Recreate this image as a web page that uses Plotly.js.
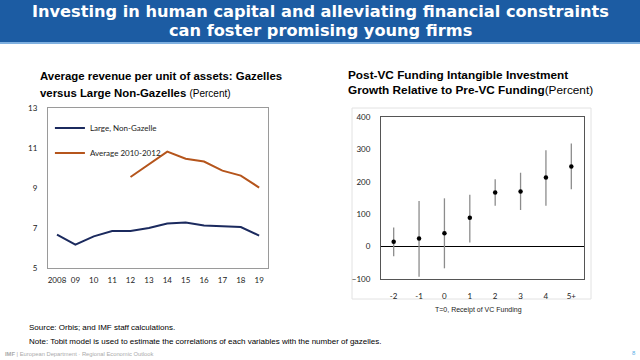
<!DOCTYPE html>
<html><head><meta charset="utf-8">
<script src="https://cdn.plot.ly/plotly-3.0.1.min.js"></script>
<style>html,body{margin:0;padding:0;background:#fff}#c{width:640px;height:360px}</style>
</head><body><div id="c"></div>
<script>
// Left chart data
const years = [2008,2009,2010,2011,2012,2013,2014,2015,2016,2017,2018,2019];
const yearLabels = ["2008","09","10","11","12","13","14","15","16","17","18","19"];
const largeNonGazelle = [6.67,6.17,6.58,6.85,6.85,7.0,7.22,7.28,7.12,7.1,7.05,6.62];
const average2010_2012 = [null,null,null,null,9.55,10.2,10.82,10.46,10.32,9.87,9.62,9.02];
// Right chart data
const periods = ["-2","-1","0","1","2","3","4","5+"];
const estimate = [15,25,41,89,167,170,213,247];
const upper = [59,141,149,160,208,228,297,318];
const lower = [-30,-93,-67,13,126,113,126,177];

const errPlus = estimate.map((v,i)=>upper[i]-v);
const errMinus = estimate.map((v,i)=>v-lower[i]);

const tickFont = {family:"Lato, 'Open Sans', sans-serif", size:8, color:"#222"};
const AR = "'Liberation Sans', Arial, sans-serif";
const TF = "'DejaVu Sans', sans-serif";

const traces = [
  {x:years, y:largeNonGazelle, type:"scatter", mode:"lines", name:"Large, Non-Gazelle",
   line:{color:"#1b2a5e", width:2}, xaxis:"x", yaxis:"y", legendgroup:"a"},
  {x:years, y:average2010_2012, type:"scatter", mode:"lines", name:"Average 2010-2012",
   line:{color:"#b5551c", width:2}, xaxis:"x", yaxis:"y", legendgroup:"b"},
  {x:periods, y:estimate, type:"scatter", mode:"markers", showlegend:false,
   marker:{color:"#000", size:4.5},
   error_y:{type:"data", symmetric:false, array:errPlus, arrayminus:errMinus, color:"#8c8c8c", thickness:1.3, width:0},
   xaxis:"x2", yaxis:"y2"}
];

function ann(x,y,text,size,opts){
  return Object.assign({xref:"paper", yref:"paper", x:x/640, y:1-y/360, xanchor:"left", yanchor:"middle",
    showarrow:false, text:text, font:{family:AR, size:size, color:"#000"}}, opts||{});
}

const layout = {
  width:640, height:360, margin:{l:0,r:0,t:0,b:0},
  paper_bgcolor:"#fff", plot_bgcolor:"#fff",
  showlegend:true,
  legend:{x:0.078, y:0.685, xanchor:"left", yanchor:"top", bgcolor:"rgba(0,0,0,0)",
    font:{family:"Lato, 'Open Sans', sans-serif", size:8, color:"#222"},
    tracegroupgap:6, itemwidth:30},
  xaxis:{domain:[0.075,0.419], anchor:"y", range:[2007.51,2019.49],
    tickmode:"array", tickvals:years, ticktext:yearLabels, ticks:"", showgrid:false, zeroline:false,
    showline:true, mirror:true, linecolor:"#9a9a9a", linewidth:1, tickfont:tickFont, ticklabelstandoff:4},
  yaxis:{domain:[0.2556,0.7], anchor:"x", range:[5,13], tick0:5, dtick:2, ticks:"", showgrid:false, zeroline:false,
    showline:true, mirror:true, linecolor:"#9a9a9a", linewidth:1, tickfont:tickFont, ticklabelstandoff:8},
  xaxis2:{domain:[0.5953,0.9125], anchor:"y2", type:"category", range:[-0.5,7.5], ticks:"", showgrid:false,
    zeroline:false, showline:true, mirror:true, linecolor:"#555", linewidth:1, tickfont:tickFont, ticklabelstandoff:9},
  yaxis2:{domain:[0.225,0.675], anchor:"x2", range:[-100,400], dtick:100, ticks:"", showgrid:false,
    zeroline:true, zerolinecolor:"#000", zerolinewidth:1,
    showline:true, mirror:true, linecolor:"#555", linewidth:1, tickfont:tickFont, ticklabelstandoff:8},
  shapes:[
    {type:"rect", xref:"paper", yref:"paper", x0:0, x1:1, y0:1-42/360, y1:1, fillcolor:"#1c5ca3", line:{width:0}, layer:"below"},
    {type:"rect", xref:"paper", yref:"paper", x0:0, x1:1, y0:1-44/360, y1:1-42/360, fillcolor:"#7fb0e0", line:{width:0}, layer:"below"},
    {type:"rect", xref:"paper", yref:"paper", x0:352/640, x1:591/640, y0:1-299/360, y1:1-108/360, fillcolor:"rgba(0,0,0,0)", line:{color:"#e2e2e2", width:1}, layer:"below"}
  ],
  annotations:[
    ann(320,11,"<b>Investing in human capital and alleviating financial constraints</b>",16.2,{xanchor:"center", font:{family:TF,size:16.2,color:"#fff"}}),
    ann(320,30,"<b>can foster promising young firms</b>",16.2,{xanchor:"center", font:{family:TF,size:16.2,color:"#fff"}}),
    ann(38,76,"<b>Average revenue per unit of assets: Gazelles</b>",11.4),
    ann(38,93,"<b>versus Large Non-Gazelles</b> <span style='font-size:10px'>(Percent)</span>",11.4),
    ann(346,75,"<b>Post-VC Funding Intangible Investment</b>",11.8),
    ann(346,90,"<b>Growth Relative to Pre-VC Funding</b><span style='font-size:11.8px'>(Percent)</span>",11.8),
    ann(478,310,"T=0, Receipt of VC Funding",7,{xanchor:"center", font:{family:AR,size:7,color:"#222"}}),
    ann(27,327,"Source: Orbis; and IMF staff calculations.",8),
    ann(27,341,"Note: Tobit model is used to estimate the correlations of each variables with the number of gazelles.",8),
    ann(3,354,"<b>IMF</b> | European Department · Regional Economic Outlook",5.8,{font:{family:AR,size:5.8,color:"#aaa"}}),
    ann(634,353,"8",6,{xanchor:"center", font:{family:AR,size:6,color:"#5ab0e8"}})
  ]
};
Plotly.newPlot("c", traces, layout, {displayModeBar:false, staticPlot:true});
</script></body></html>
